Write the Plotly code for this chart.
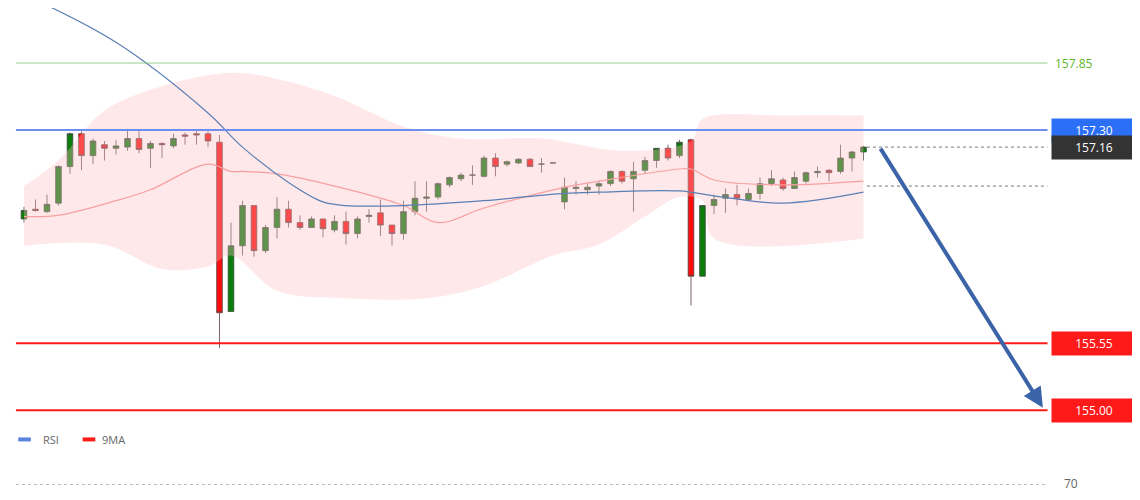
import plotly.graph_objects as go

# candle index 0..73
opens = [156.57, 156.65, 156.63, 156.70, 157.00, 157.27, 157.09, 157.18, 157.15, 157.16,
         157.23, 157.15, 157.19, 157.17, 157.26, 157.27, 157.27, 157.20, 155.81, 156.35,
         156.68, 156.31, 156.50, 156.65, 156.54, 156.50, 156.57, 156.48, 156.55, 156.45,
         156.59, 156.62, 156.52, 156.45, 156.63, 156.74, 156.75, 156.85, 156.90, 156.93,
         156.92, 157.07, 157.02, 157.03, 157.06, 157.02, 157.03, 156.71, 156.82, 156.81,
         156.84, 156.86, 156.96, 156.90, 156.97, 157.05, 157.15, 157.09, 157.22, 156.10,
         156.68, 156.74, 156.77, 156.73, 156.78, 156.86, 156.89, 156.82, 156.88, 156.95,
         156.97, 156.96, 157.07, 157.12]
highs = [156.67, 156.73, 156.77, 157.01, 157.28, 157.29, 157.23, 157.21, 157.22, 157.31,
         157.29, 157.21, 157.20, 157.27, 157.28, 157.29, 157.29, 157.26, 156.54, 156.72,
         156.68, 156.52, 156.75, 156.72, 156.60, 156.59, 156.57, 156.60, 156.63, 156.59,
         156.65, 156.73, 156.52, 156.72, 156.88, 156.88, 156.87, 156.92, 156.95, 157.01,
         157.09, 157.11, 157.05, 157.07, 157.07, 157.07, 157.03, 156.91, 156.88, 156.86,
         156.88, 156.97, 156.97, 157.04, 157.08, 157.15, 157.18, 157.22, 157.23, 156.68,
         156.77, 156.82, 156.85, 156.82, 156.91, 156.97, 156.91, 156.96, 156.96, 157.00,
         156.98, 157.18, 157.13, 157.17]
lows = [156.54, 156.63, 156.62, 156.68, 156.94, 156.97, 157.02, 157.05, 157.10, 157.13,
        157.11, 156.99, 157.07, 157.15, 157.18, 157.18, 157.16, 155.51, 155.81, 156.27,
        156.26, 156.29, 156.41, 156.50, 156.48, 156.50, 156.42, 156.46, 156.36, 156.41,
        156.54, 156.43, 156.35, 156.40, 156.60, 156.63, 156.73, 156.83, 156.88, 156.85,
        156.91, 156.92, 157.00, 157.02, 157.00, 156.95, 157.03, 156.65, 156.77, 156.77,
        156.77, 156.84, 156.86, 156.63, 156.94, 156.99, 157.05, 157.07, 155.86, 156.10,
        156.61, 156.62, 156.68, 156.72, 156.73, 156.84, 156.80, 156.82, 156.86, 156.91,
        156.88, 156.94, 156.96, 157.05]
closes = [156.64, 156.64, 156.69, 157.00, 157.27, 157.09, 157.21, 157.15, 157.17, 157.23,
          157.14, 157.19, 157.18, 157.23, 157.25, 157.26, 157.21, 155.80, 156.35, 156.68,
          156.31, 156.50, 156.65, 156.54, 156.50, 156.57, 156.49, 156.55, 156.45, 156.57,
          156.60, 156.52, 156.45, 156.63, 156.74, 156.75, 156.86, 156.91, 156.93, 156.93,
          157.07, 157.00, 157.04, 157.06, 157.00, 157.02, 157.03, 156.83, 156.83, 156.83,
          156.86, 156.96, 156.88, 156.96, 157.05, 157.15, 157.07, 157.20, 156.10, 156.68,
          156.73, 156.77, 156.74, 156.78, 156.86, 156.90, 156.82, 156.91, 156.95, 156.96,
          156.95, 157.07, 157.12, 157.16]

band_idx = [0, 3, 7, 12, 18, 22, 27, 33, 38, 45, 52, 58, 59, 66, 73]
band_upper = [156.84, 157.05, 157.46, 157.66, 157.77, 157.72, 157.58, 157.33, 157.23,
              157.23, 157.13, 157.21, 157.39, 157.42, 157.42]
low_idx = [0, 7, 12, 16, 18, 22, 28, 35, 40, 46, 50, 54, 57, 59, 60, 73]
band_lower = [156.35, 156.36, 156.16, 156.18, 156.27, 155.98, 155.92, 155.92, 156.02,
              156.27, 156.36, 156.59, 156.75, 156.72, 156.41, 156.41]

ma_idx = [0, 3, 8, 11, 16, 18, 19, 22, 27, 33, 36, 40, 47, 50, 57, 58, 60, 66, 73]
ma_vals = [156.59, 156.60, 156.72, 156.81, 157.02, 156.96, 156.96, 156.94, 156.84,
           156.68, 156.54, 156.66, 156.83, 156.88, 156.98, 156.98, 156.89, 156.85, 156.88]

rsi_idx = [0.3, 8, 16, 19, 23, 26, 28, 33, 40, 47, 50, 57, 60, 66, 73]
rsi_vals = [158.40, 158.02, 157.44, 157.16, 156.87, 156.71, 156.68, 156.68, 156.72,
            156.78, 156.79, 156.80, 156.76, 156.70, 156.79]

levels = [157.85, 157.30, 155.55, 155.00]
level_colors = ['#7cc46a', '#6f8ff0', '#ff1a1a', '#ff1a1a']
level_widths = [0.8, 2, 2, 2]
label_bg = [None, '#2a6ff5', '#ff1a1a', '#ff1a1a']
current_price = 157.16
ma_line_price = 156.84
target_price = 155.02
x = list(range(len(opens)))

fig = go.Figure()
fig.add_trace(go.Scatter(x=band_idx, y=band_upper, mode='lines', line=dict(width=0, shape='spline'),
                         hoverinfo='skip', showlegend=False))
fig.add_trace(go.Scatter(x=low_idx, y=band_lower, mode='lines', line=dict(width=0, shape='spline'),
                         fill='tonexty', fillcolor='rgba(255,190,195,0.35)', hoverinfo='skip', showlegend=False))
fig.add_trace(go.Scatter(x=ma_idx, y=ma_vals, mode='lines', line=dict(color='#f7a0a0', width=1.2, shape='spline'),
                         showlegend=False))
fig.add_trace(go.Scatter(x=rsi_idx, y=rsi_vals, mode='lines', line=dict(color='#5a7fb5', width=1.2, shape='spline'),
                         showlegend=False))
fig.add_trace(go.Candlestick(
    x=x, open=opens, high=highs, low=lows, close=closes,
    increasing=dict(fillcolor='#0b7d0b', line=dict(color='#3d4a3d', width=0.8)),
    decreasing=dict(fillcolor='#ff0d0d', line=dict(color='#5a4040', width=0.8)),
    whiskerwidth=0, showlegend=False))

x0, x1 = -0.7, 89.0
for lv, col, w, bg in zip(levels, level_colors, level_widths, label_bg):
    fig.add_shape(type='line', x0=x0, x1=x1, y0=lv, y1=lv, line=dict(color=col, width=w))
    fig.add_annotation(x=x1 + 0.3, y=lv, text=f'{lv:.2f}', xanchor='left', showarrow=False,
                       font=dict(color='white' if bg else '#5cb82e', size=12),
                       bgcolor=bg, borderpad=3, width=78, align='center' if bg else 'left')
for lv in [current_price, ma_line_price]:
    fig.add_shape(type='line', x0=73.3, x1=x1, y0=lv, y1=lv, line=dict(color='#777', width=1, dash='dot'))
fig.add_annotation(x=x1 + 0.3, y=current_price, text=f'{current_price:.2f}', xanchor='left', showarrow=False,
                   font=dict(color='white', size=12), bgcolor='#333333', borderpad=3, width=78)
fig.add_annotation(x=x1 + 0.3, y=158.40, text='158.40', xanchor='left', showarrow=False,
                   font=dict(color='#5cb82e', size=12), width=78, align='left')

# forecast arrow
fig.add_annotation(x=88.6, y=target_price, ax=74.4, ay=current_price, xref='x', yref='y', axref='x', ayref='y',
                   showarrow=True, arrowhead=2, arrowsize=1, arrowwidth=4, arrowcolor='#3b64a8', text='')

# bottom RSI pane remnant
fig.add_shape(type='line', x0=x0, x1=x1, y0=154.39, y1=154.39, line=dict(color='#bbb', width=1, dash='dot'))
fig.add_annotation(x=x1 + 1.3, y=154.40, text='70', xanchor='left', showarrow=False, font=dict(color='#666', size=12))

# legend
fig.add_shape(type='line', x0=-0.5, x1=0.6, y0=154.76, y1=154.76, line=dict(color='#5b84e0', width=4))
fig.add_annotation(x=1.5, y=154.76, text='RSI', xanchor='left', showarrow=False, font=dict(color='#666', size=11))
fig.add_shape(type='line', x0=5.1, x1=6.2, y0=154.76, y1=154.76, line=dict(color='#ff1a1a', width=4))
fig.add_annotation(x=6.6, y=154.76, text='9MA', xanchor='left', showarrow=False, font=dict(color='#666', size=11))

fig.update_layout(
    width=1140, height=500, margin=dict(l=0, r=0, t=0, b=0),
    paper_bgcolor='white', plot_bgcolor='white',
    font=dict(family='Open Sans, Arial, sans-serif'),
    xaxis=dict(range=[-1.39, 97.74], visible=False, rangeslider=dict(visible=False), fixedrange=True),
    yaxis=dict(range=[154.197, 158.302], visible=False),
    showlegend=False,
)
fig.write_html('out.html')
